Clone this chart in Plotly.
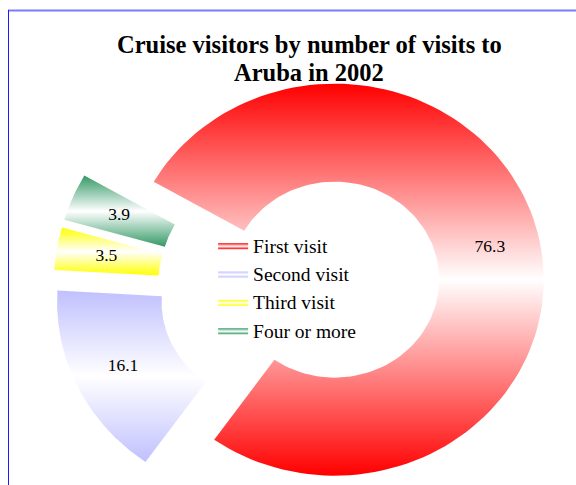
import numpy as np
import plotly.graph_objects as go

# Share of cruise visitors (%) by number of visits to Aruba, 2002
categories = ["First visit", "Second visit", "Third visit", "Four or more"]
shares = [76.3, 16.1, 3.5, 3.9]
slice_colors = ["#FF0000", "#C0C0FF", "#FFFF00", "#339966"]
title_lines = ["Cruise visitors by number of visits to", "Aruba in 2002"]

# Donut geometry (radius 1 = outer edge)
START_ANGLE = 150.0   # degrees, counter-clockwise from 3 o'clock; slices run clockwise
HOLE = 0.5
EXPLODE = 0.175
LABEL_RADIUS = 0.76

W, H = 576, 485
CX_PX, CY_PX = 299.0, 287.0     # pie centre on the page
RX_PX, RY_PX = 209.0, 196.0     # pixels per unit radius (x, y)

fig = go.Figure()

total = sum(shares)
angle = START_ANGLE
label_x, label_y, label_txt = [], [], []
for name, value, color in zip(categories, shares, slice_colors):
    span = value / total * 360.0
    a1, a2 = angle, angle - span
    mid = np.radians((a1 + a2) / 2.0)
    ox, oy = EXPLODE * np.cos(mid), EXPLODE * np.sin(mid)

    outer = np.radians(np.linspace(a1, a2, 120))
    inner = outer[::-1]
    xs = np.concatenate([ox + np.cos(outer), ox + HOLE * np.cos(inner), [ox + np.cos(outer[0])]])
    ys = np.concatenate([oy + np.sin(outer), oy + HOLE * np.sin(inner), [oy + np.sin(outer[0])]])

    fig.add_trace(go.Scatter(
        x=xs, y=ys, name=name, mode="lines", fill="toself",
        line=dict(width=0, color=color),
        fillgradient=dict(type="vertical",
                          colorscale=[[0, color], [0.5, "#FFFFFF"], [1, color]]),
        hoverinfo="skip",
    ))

    label_x.append(ox + LABEL_RADIUS * np.cos(mid))
    label_y.append(oy + LABEL_RADIUS * np.sin(mid))
    label_txt.append(f"{value:.1f}")
    angle = a2

fig.add_trace(go.Scatter(
    x=label_x, y=label_y, text=label_txt, mode="text", showlegend=False,
    textfont=dict(family="Liberation Serif", size=17.5, color="black"),
    hoverinfo="skip",
))

title_font = dict(family="Liberation Serif", size=24.5, color="black")
title_annotations = [
    dict(text=f"<b>{line}</b>", xref="paper", yref="paper",
         x=309 / W, y=1 - y_px / H, xanchor="center", yanchor="middle",
         showarrow=False, font=title_font)
    for line, y_px in zip(title_lines, [44, 72])
]

fig.update_layout(
    width=W, height=H,
    margin=dict(l=0, r=0, t=0, b=0),
    paper_bgcolor="white", plot_bgcolor="white",
    xaxis=dict(range=[-CX_PX / RX_PX, (W - CX_PX) / RX_PX], visible=False, fixedrange=True),
    yaxis=dict(range=[-(H - CY_PX) / RY_PX, CY_PX / RY_PX], visible=False, fixedrange=True),
    legend=dict(
        x=0.37, y=1 - 226 / H, xanchor="left", yanchor="top",
        bgcolor="rgba(0,0,0,0)",
        font=dict(family="Liberation Serif", size=19.5, color="black"),
    ),
    annotations=title_annotations,
    shapes=[
        dict(type="line", xref="paper", yref="paper",
             x0=8 / W, x1=1, y0=1 - 10.5 / H, y1=1 - 10.5 / H,
             line=dict(color="#7B7BFF", width=2)),
        dict(type="line", xref="paper", yref="paper",
             x0=8.5 / W, x1=8.5 / W, y0=1 - 10 / H, y1=0,
             line=dict(color="#1A1AFF", width=1)),
    ],
)

fig.write_html("out.html")
